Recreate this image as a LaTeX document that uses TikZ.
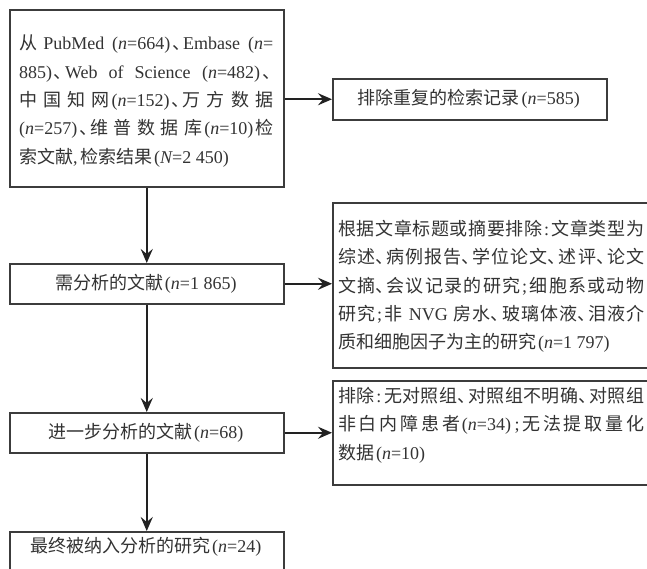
\documentclass[tikz,border=0pt]{standalone}
\usepackage{fontspec}
\setmainfont{Liberation Serif}
\newfontfamily\cjk{Noto Sans CJK SC}
\usetikzlibrary{arrows.meta}
\XeTeXlinebreaklocale "zh"
\XeTeXlinebreakskip=0pt plus 1pt minus 0.2pt
\tolerance=10000
\definecolor{boxc}{HTML}{3C3C3C}
\definecolor{arrc}{HTML}{222222}
\definecolor{txtc}{HTML}{333333}
\newcommand\en[1]{{\rmfamily #1}}
\newcommand\nv{{\rmfamily\itshape n}}
\newcommand\Nv{{\rmfamily\itshape N}}
\newcommand\lp{\kern.1em{\rmfamily(}}
\newcommand\rp{{\rmfamily)}\kern.1em}
\newcommand\dn{、\kern-.38em}
\newcommand\colonx{{\rmfamily\kern.1em:\kern.15em}}
\newcommand\semix{{\rmfamily\kern.1em;\kern.15em}}
\newcommand\commax{{\rmfamily,\kern.15em}}
\tikzset{
  box/.style={draw=boxc, line width=1.5pt, rectangle, inner sep=0pt, text=txtc,
    font=\cjk\fontsize{18}{28.3}\selectfont},
  plain/.style={inner sep=0pt, text=txtc, align=justify,
    font=\cjk\fontsize{18}{28.3}\selectfont},
  arr/.style={draw=arrc, line width=2pt, -{Stealth[length=14pt,width=12pt,inset=5pt]}},
}
\begin{document}
\begin{tikzpicture}[x=1pt,y=-1pt]
\useasboundingbox (0,0) rectangle (647,568);
\clip (0,0) rectangle (647,568);
\fill[white] (0,0) rectangle (647,568);

\node[box, minimum width=274pt, minimum height=177pt, anchor=north west] (b1) at (9,9) {};
\node[plain, text width=254pt, anchor=north west] (t1) at (19,35)
{从 \en{PubMed} \lp\nv\en{=664}\rp\dn\en{Embase} \lp\nv\en{=}\linebreak
\en{885}\rp\dn\en{Web of Science} \lp\nv\en{=482}\rp\dn\linebreak
中国知网\lp\nv\en{=152}\rp\dn 万方数据\linebreak
\lp\nv\en{=257}\rp\dn 维普数据库\lp\nv\en{=10}\rp 检\linebreak
索文献\commax 检索结果\lp\Nv\en{=2\kern.25em450}\rp};

\node[box, minimum width=274pt, minimum height=41pt, anchor=north west] (b2) at (332,78)
{排除重复的检索记录\lp\nv\en{=585}\rp};

\node[box, minimum width=274pt, minimum height=40pt, anchor=north west] (b3) at (9,263)
{需分析的文献\lp\nv\en{=1\kern.25em865}\rp};

\node[box, minimum width=340pt, minimum height=165pt, anchor=north west] (b4) at (332,202) {};
\node[plain, text width=306pt, anchor=north west] (t4) at (338,220)
{根据文章标题或摘要排除\colonx 文章类型为\linebreak
综述\dn 病例报告\dn 学位论文\dn 述评\dn 论文\linebreak
文摘\dn 会议记录的研究\semix 细胞系或动物\linebreak
研究\semix 非 \en{NVG} 房水\dn 玻璃体液\dn 泪液介\linebreak
质和细胞因子为主的研究\lp\nv\en{=1\kern.25em797}\rp};

\node[box, minimum width=274pt, minimum height=40pt, anchor=north west] (b5) at (9,412)
{进一步分析的文献\lp\nv\en{=68}\rp};

\node[box, minimum width=340pt, minimum height=104pt, anchor=north west] (b6) at (332,380) {};
\node[plain, text width=306pt, anchor=north west] (t6) at (338,387)
{排除\colonx 无对照组\dn 对照组不明确\dn 对照组\linebreak
非白内障患者\lp\nv\en{=34}\rp\semix 无法提取量化\linebreak
数据\lp\nv\en{=10}\rp};

\node[box, minimum width=274pt, text height=21pt, text depth=30pt, inner ysep=0pt, anchor=north west] (b7) at (9,531)
{最终被纳入分析的研究\lp\nv\en{=24}\rp};

\draw[arr] (b1.east |- b2.west) -- (b2.west);
\draw[arr] (b1.south) -- (b3.north);
\draw[arr] (b3.east) -- (b3.east -| b4.west);
\draw[arr] (b3.south) -- (b5.north);
\draw[arr] (b5.east) -- (b5.east -| b6.west);
\draw[arr] (b5.south) -- (b7.north);
\end{tikzpicture}
\end{document}
